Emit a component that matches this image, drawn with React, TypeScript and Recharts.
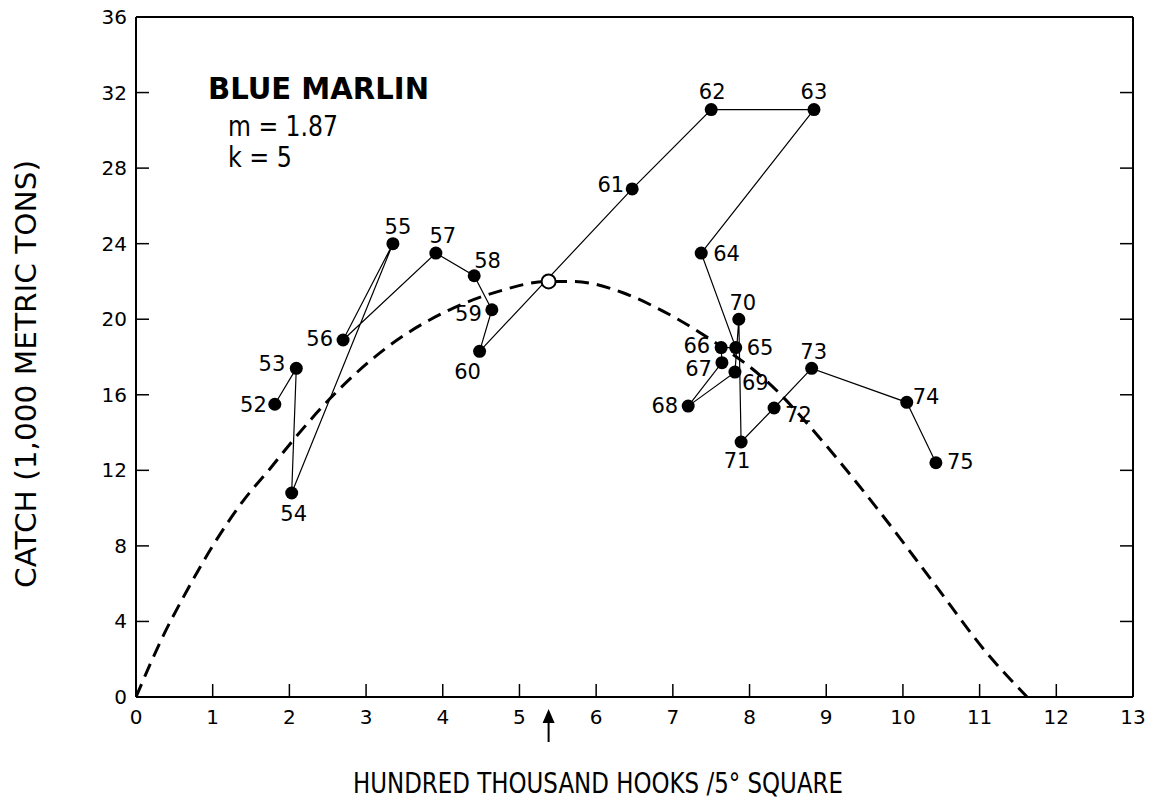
import React from 'react';
import { ComposedChart, XAxis, YAxis, Line, Scatter, ReferenceDot } from 'recharts';

// yearly observations (catch vs effort), in connection order
const years = ['52', '53', '54', '55', '56', '57', '58', '59', '60', '61', '62', '63', '64', '65', '66', '67', '68', '69', '70', '71', '72', '73', '74', '75'];
const effort = [1.81, 2.09, 2.03, 3.35, 2.7, 3.91, 4.41, 4.64, 4.48, 6.47, 7.5, 8.84, 7.37, 7.82, 7.63, 7.64, 7.2, 7.81, 7.86, 7.89, 8.32, 8.81, 10.05, 10.43];
const catchK = [15.5, 17.4, 10.8, 24.0, 18.9, 23.5, 22.3, 20.5, 18.3, 26.9, 31.1, 31.1, 23.5, 18.5, 18.5, 17.7, 15.4, 17.2, 20.0, 13.5, 15.3, 17.4, 15.6, 12.4];

// equilibrium production curve
const curveEffort = [0, 0.35, 0.66, 1.0, 1.4, 1.75, 2.05, 2.53, 3.27, 4.09, 4.75, 5.36, 5.7, 6.35, 6.79, 7.35, 8.36, 8.79, 9.66, 10.39, 11.1, 11.62];
const curveCatch = [0, 3.2, 5.6, 8.0, 10.4, 12.1, 13.6, 15.8, 18.5, 20.5, 21.5, 22.0, 22.0, 21.4, 20.6, 19.3, 16.2, 14.3, 10.0, 6.1, 2.3, 0];

// maximum sustainable yield point
const msyEffort = 5.38;
const msyCatch = 22.0;

const xTicks = [0, 1, 2, 3, 4, 5, 6, 7, 8, 9, 10, 11, 12, 13];
const yTicks = [0, 4, 8, 12, 16, 20, 24, 28, 32, 36];

// where each year label sits relative to its dot: [dx, dy, anchor]
const labelPlace: Record<string, [number, number, 'start' | 'middle' | 'end']> = {
  '52': [-8, 8, 'end'],
  '53': [-11, 3, 'end'],
  '54': [2, 28, 'middle'],
  '55': [5, -10, 'middle'],
  '56': [-10, 6, 'end'],
  '57': [7, -10, 'middle'],
  '58': [0, -8, 'start'],
  '59': [-10, 11, 'end'],
  '60': [-12, 28, 'middle'],
  '61': [-8, 3, 'end'],
  '62': [1, -11, 'middle'],
  '63': [0, -11, 'middle'],
  '64': [12, 8, 'start'],
  '65': [11, 7, 'start'],
  '66': [-11, 5, 'end'],
  '67': [-10, 13, 'end'],
  '68': [-10, 7, 'end'],
  '69': [7, 18, 'start'],
  '70': [4, -9, 'middle'],
  '71': [-4, 26, 'middle'],
  '72': [11, 14, 'start'],
  '73': [2, -9, 'middle'],
  '74': [6, 2, 'start'],
  '75': [11, 6, 'start'],
};

const COND = '"DejaVu Sans Condensed", "DejaVu Sans", sans-serif';
const SANS = '"DejaVu Sans", sans-serif';

const yearData = years.map((year, i) => ({ x: effort[i], y: catchK[i], year }));
const curveData = curveEffort.map((x, i) => ({ x, y: curveCatch[i] }));
const msyData = [{ x: msyEffort, y: msyCatch }];

const BottomTick = (props: any) => {
  const { x, y, payload } = props;
  const v = payload.value;
  return (
    <g>
      {v > 0 && v < 13 && <line x1={x} x2={x} y1={y} y2={y - 13} stroke="#000" strokeWidth={1.5} />}
      <text x={x} y={y + 27} textAnchor="middle" fontFamily={SANS} fontSize={20} fill="#000">
        {v}
      </text>
    </g>
  );
};

const LeftTick = (props: any) => {
  const { x, y, payload } = props;
  const v = payload.value;
  return (
    <g>
      {v > 0 && v < 36 && <line x1={x} x2={x + 13} y1={y} y2={y} stroke="#000" strokeWidth={1.5} />}
      <text x={x - 9} y={y + 7} textAnchor="end" fontFamily={SANS} fontSize={20} fill="#000">
        {v}
      </text>
    </g>
  );
};

const TopTick = (props: any) => {
  const { x, y, payload } = props;
  const v = payload.value;
  if (v <= 0 || v >= 13) return <g />;
  return <line x1={x} x2={x} y1={y} y2={y + 13} stroke="#000" strokeWidth={1.5} />;
};

const RightTick = (props: any) => {
  const { x, y, payload } = props;
  const v = payload.value;
  if (v <= 0 || v >= 36) return <g />;
  return <line x1={x} x2={x - 13} y1={y} y2={y} stroke="#000" strokeWidth={1.5} />;
};

const YearDot = (props: any) => {
  const { cx, cy } = props;
  const year = props.payload?.year ?? props.year;
  const [dx, dy, anchor] = labelPlace[year] || [0, -10, 'middle'];
  return (
    <g>
      <circle cx={cx} cy={cy} r={6.5} fill="#000" />
      <text x={cx + dx} y={cy + dy} textAnchor={anchor} fontFamily={SANS} fontSize={21} fill="#000">
        {year}
      </text>
    </g>
  );
};

const OpenDot = (props: any) => (
  <circle cx={props.cx} cy={props.cy} r={7} fill="#fff" stroke="#000" strokeWidth={2} />
);

const Arrow = (props: any) => {
  const { cx, cy } = props;
  return (
    <g>
      <line x1={cx} x2={cx} y1={cy + 20} y2={cy + 45} stroke="#000" strokeWidth={2} />
      <polygon points={`${cx},${cy + 12} ${cx - 6},${cy + 26} ${cx + 6},${cy + 26}`} fill="#000" />
    </g>
  );
};

export default function App() {
  return (
    <div style={{ position: 'absolute', left: 0, top: 0, width: 1164, height: 804, background: '#fff' }}>
      <ComposedChart width={1164} height={804} margin={{ top: 16, right: 30, bottom: 77, left: 80 }}>
        <XAxis
          dataKey="x"
          type="number"
          domain={[0, 13]}
          ticks={xTicks}
          interval={0}
          height={30}
          tickSize={0}
          tickMargin={0}
          tickLine={false}
          tick={BottomTick}
          axisLine={{ stroke: '#000', strokeWidth: 2 }}
          allowDataOverflow
        />
        <XAxis
          xAxisId="top"
          orientation="top"
          type="number"
          domain={[0, 13]}
          ticks={xTicks}
          interval={0}
          height={1}
          tickSize={0}
          tickMargin={0}
          tickLine={false}
          tick={TopTick}
          axisLine={{ stroke: '#000', strokeWidth: 2 }}
          allowDataOverflow
        />
        <YAxis
          type="number"
          domain={[0, 36]}
          ticks={yTicks}
          interval={0}
          width={56}
          tickSize={0}
          tickMargin={0}
          tickLine={false}
          tick={LeftTick}
          axisLine={{ stroke: '#000', strokeWidth: 2 }}
          allowDataOverflow
        />
        <YAxis
          yAxisId="right"
          orientation="right"
          type="number"
          domain={[0, 36]}
          ticks={yTicks}
          interval={0}
          width={1}
          tickSize={0}
          tickMargin={0}
          tickLine={false}
          tick={RightTick}
          axisLine={{ stroke: '#000', strokeWidth: 2 }}
          allowDataOverflow
        />
        <Line
          data={curveData}
          dataKey="y"
          type="monotone"
          stroke="#000"
          strokeWidth={3}
          strokeDasharray="14 8"
          dot={false}
          activeDot={false}
          isAnimationActive={false}
        />
        <Scatter
          data={yearData}
          dataKey="y"
          line={{ stroke: '#000', strokeWidth: 1.2 }}
          shape={YearDot}
          isAnimationActive={false}
        />
        <Scatter data={msyData} dataKey="y" shape={OpenDot} isAnimationActive={false} />
        <ReferenceDot x={msyEffort} y={0} ifOverflow="visible" shape={Arrow} />
      </ComposedChart>
      <svg
        width={1164}
        height={804}
        style={{ position: 'absolute', left: 0, top: 0, pointerEvents: 'none' }}
      >
        <text x={208} y={99} fontFamily={SANS} fontWeight="bold" fontSize={31} textLength={221} lengthAdjust="spacingAndGlyphs">
          BLUE MARLIN
        </text>
        <text x={228} y={136} fontFamily={SANS} fontSize={28} textLength={110} lengthAdjust="spacingAndGlyphs">
          m = 1.87
        </text>
        <text x={228} y={167} fontFamily={SANS} fontSize={28} textLength={64} lengthAdjust="spacingAndGlyphs">
          k = 5
        </text>
        <text x={598} y={793} textAnchor="middle" fontFamily={COND} fontSize={28} textLength={490} lengthAdjust="spacingAndGlyphs">
          HUNDRED THOUSAND HOOKS /5° SQUARE
        </text>
        <text
          x={374}
          y={36}
          transform="rotate(-90 374 374)"
          textAnchor="middle"
          fontFamily={SANS}
          fontSize={29}
          textLength={428}
          lengthAdjust="spacingAndGlyphs"
        >
          CATCH (1,000 METRIC TONS)
        </text>
      </svg>
    </div>
  );
}
